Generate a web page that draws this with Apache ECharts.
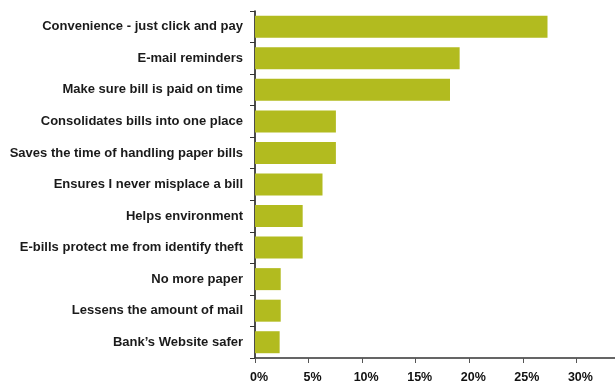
<!DOCTYPE html>
<html>
<head>
    <meta charset="utf-8">
    <title>Reasons for paying bills online</title>
    <style>
        html, body { margin: 0; padding: 0; background: #ffffff; }
        #main { width: 615px; height: 386px; }
    </style>
</head>
<body>
<div id="main"></div>
<script src="https://cdn.jsdelivr.net/npm/echarts@6/dist/echarts.min.js"></script>
<script>
    var categories = [
        'Convenience - just click and pay',
        'E-mail reminders',
        'Make sure bill is paid on time',
        'Consolidates bills into one place',
        'Saves the time of handling paper bills',
        'Ensures I never misplace a bill',
        'Helps environment',
        'E-bills protect me from identify theft',
        'No more paper',
        'Lessens the amount of mail',
        'Bank\u2019s Website safer'
    ];
    var values = [27.3, 19.1, 18.2, 7.55, 7.55, 6.3, 4.45, 4.45, 2.4, 2.4, 2.3];

    var myChart = echarts.init(document.getElementById('main'));
    var font = '"Liberation Sans", Arial, sans-serif';

    var option = {
        backgroundColor: '#FFFFFF',
        animation: false,
        grid: { left: 255, right: 0, top: 11, bottom: 28, containLabel: false },
        xAxis: {
            type: 'value',
            min: 0,
            max: 33.6,
            interval: 5,
            splitLine: { show: false },
            axisLine: { show: true, lineStyle: { color: '#333333', width: 1.5 } },
            axisTick: { show: true, length: 5, lineStyle: { color: '#555555' } },
            axisLabel: {
                showMaxLabel: false,
                formatter: '{value}%',
                color: '#111111',
                fontFamily: font,
                fontWeight: 'bold',
                fontSize: 12.5,
                margin: 13,
                padding: [0, 0, 0, 8]
            }
        },
        yAxis: {
            type: 'category',
            inverse: true,
            data: categories,
            axisLine: { show: true, lineStyle: { color: '#111111', width: 1.5 } },
            axisTick: { show: true, length: 5, lineStyle: { color: '#333333' } },
            axisLabel: {
                color: '#1a1a1a',
                fontFamily: font,
                fontWeight: 'bold',
                fontSize: 13,
                margin: 12
            }
        },
        series: [{
            type: 'bar',
            data: values,
            barWidth: 22,
            itemStyle: { color: '#b2bb1f' }
        }]
    };
    myChart.setOption(option);
</script>
</body>
</html>
